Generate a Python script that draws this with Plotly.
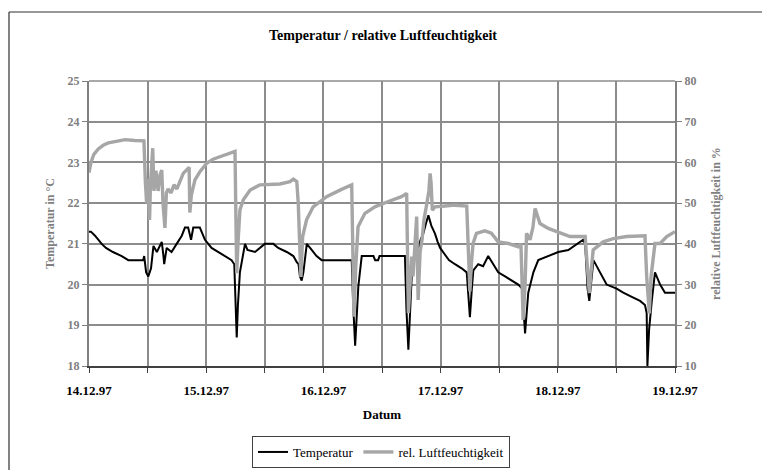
import plotly.graph_objects as go

# Measurement series: hours after 14.12.97 00:00
temp_hours = [0, 0.4, 1.23, 1.84, 2.6, 3.48, 4.9, 6.7, 8.05, 11.1, 11.3, 11.7, 12.15, 12.7,
              13.2, 13.9, 14.3, 14.9, 15.25, 15.4, 15.9, 16.9, 17.95, 19.0, 19.65, 20.3,
              20.9, 21.35, 22.7, 23.75, 25.1, 26.5, 27.85, 29.2, 29.75, 30.25, 30.5, 30.9,
              31.95, 32.45, 34.0, 35.0, 36.0, 37.75, 38.75, 40.5, 41.85, 42.55, 42.9, 43.2,
              43.55, 43.9, 44.6, 45.6, 46.6, 47.65, 53.8, 54.1, 54.5, 55.15, 55.85, 58.25,
              58.6, 59.2, 59.5, 64.7, 65.0, 65.4, 65.75, 66.2, 66.8, 67.45, 67.9, 68.45,
              69.0, 69.5, 70.1, 70.85, 71.4, 71.9, 72.8, 73.7, 74.95, 76.3, 77.35, 77.7,
              78.0, 78.4, 78.7, 79.7, 80.7, 81.75,
              82.8, 83.8, 85.2, 86.55, 87.9, 88.7, 89.05, 89.3, 89.95, 91.0, 92.0, 94.05,
              96.1, 98.15, 100.55, 101.2, 101.6, 102.1, 102.45, 102.8, 103.3, 104.65,
              106.0, 108.05, 109.4, 111.15, 112.85, 113.85, 114.2, 114.35, 114.7, 115.25,
              115.9, 116.95, 117.95, 120]
temp_values = [21.3, 21.3, 21.2, 21.1, 21.0, 20.9, 20.8, 20.7, 20.6, 20.6, 20.7, 20.3, 20.2, 20.4,
               20.95, 20.8, 20.9, 21.05, 20.7, 20.5, 20.9, 20.8, 21.0, 21.2, 21.4, 21.4,
               21.1, 21.4, 21.4, 21.1, 20.9, 20.8, 20.7, 20.6, 20.5, 18.7, 19.5, 20.3,
               21.0, 20.85, 20.8, 20.9, 21.0, 21.0, 20.9, 20.8, 20.7, 20.55, 20.5, 20.2,
               20.1, 20.3, 21.0, 20.85, 20.7, 20.6, 20.6, 19.5, 18.5, 19.95, 20.7, 20.7,
               20.6, 20.6, 20.7, 20.7, 19.4, 18.4, 19.3, 20.5, 20.7, 20.9, 21.1, 21.25,
               21.5, 21.7, 21.45, 21.25, 21.05, 20.9, 20.75, 20.6, 20.5, 20.4, 20.3, 19.8,
               19.2, 19.9, 20.35, 20.5, 20.45, 20.7,
               20.5, 20.3, 20.2, 20.1, 20.0, 19.9, 19.3, 18.8, 19.8, 20.3, 20.6, 20.7,
               20.8, 20.85, 21.05, 21.1, 21.0, 19.9, 19.6, 20.0, 20.6, 20.3,
               20.0, 19.9, 19.8, 19.7, 19.6, 19.5, 19.3, 18.0, 18.9, 19.6,
               20.3, 20.0, 19.8, 19.8]

rh_hours = [0, 0.4, 1.0, 1.9, 2.9, 3.95, 5.3, 7.4, 9.4, 11.25, 11.55, 11.8, 12.0, 12.4, 12.6,
            13.05, 13.3, 13.7, 14.15, 14.55, 14.9, 15.15, 15.55, 15.85, 16.2, 16.8, 17.4,
            18.0, 19.3, 20.5, 20.65, 20.95, 21.7, 22.75, 24.1, 25.4, 26.8, 28.25, 29.55,
            29.9, 30.1, 30.25, 30.5, 30.9, 31.6, 33.0, 35.0, 37.05, 39.1, 41.15, 41.85,
            42.55, 42.85, 43.2, 43.4, 43.75, 44.55, 45.9, 48.65, 51.4, 53.45, 53.8, 54.0,
            54.25, 54.65, 55.1, 56.5, 58.55, 61.3, 64.0, 65.05, 65.25, 65.4, 65.75, 66.1,
            66.35, 66.8, 67.1, 67.4, 67.8, 68.2, 68.6, 69.2, 69.6, 69.85, 70.05, 70.3,
            70.85, 72.9, 74.95, 77.35, 77.6, 78.0, 78.3, 78.65, 79.35, 81.05, 82.4, 83.8,
            85.85, 87.9, 88.45, 88.9, 89.3, 89.6, 90.3, 90.9, 91.35, 92.35, 94.05, 95.4,
            97.15, 98.5, 101.6, 101.95, 102.45, 102.8, 103.25, 105.3, 107.35, 110.1,
            113.85, 114.2, 114.75, 115.1, 115.9, 116.95, 118.3, 120]
rh_values = [57.5, 60, 62, 63.3, 64.2, 64.8, 65.1, 65.6, 65.4, 65.3, 55, 50, 56, 45.9, 55,
             63.5, 53, 58, 53, 57, 58.1, 50, 43.9, 52.5, 53.5, 52.5, 54.5,
             53.5, 57.3, 58.8, 47.7, 52, 55.7, 57.8, 59.8, 60.8, 61.4, 62.0, 62.5,
             62.7, 45, 32.8, 40, 48.3, 50.8, 53.2, 54.5, 54.6, 54.7, 55.3, 55.9,
             55.3, 50, 38, 31.9, 41.8, 45.9, 49.1, 51.6, 53.2, 54.5, 54.5, 40,
             22.1, 35, 44.2, 47.5, 49.1, 50.4, 51.6, 52.4, 40, 23, 30, 36.9,
             32, 40, 46.7, 26.2, 38, 41, 46, 50, 53, 57.3, 55, 48.3,
             49.1, 49.3, 49.5, 49.3, 40, 28.3, 35, 40.1, 42.6, 43.2, 42.6, 40.5,
             40.1, 39.3, 40, 21.3, 30, 42.6, 41, 44, 48.7, 45, 43.8, 43.2,
             42.6, 41.8, 41.8, 35, 27.9, 33, 38.5, 40.5, 41.3, 41.8,
             42, 32, 22.9, 32, 40.1, 40.1, 41.8, 43]

day_labels = ["14.12.97", "15.12.97", "16.12.97", "17.12.97", "18.12.97", "19.12.97"]
temp_ticks = [18, 19, 20, 21, 22, 23, 24, 25]
rh_ticks = [10, 20, 30, 40, 50, 60, 70, 80]

FONT = "Liberation Serif"
GRID = "#8c8c8c"
GREY_TEXT = "#7f7f7f"

tick_hours = [i * 12 for i in range(11)]
tick_text = []
for i in range(11):
    tick_text.append(day_labels[i // 2] if i % 2 == 0 else "")

fig = go.Figure()
fig.add_trace(go.Scatter(
    x=temp_hours, y=temp_values, name="Temperatur", mode="lines",
    line=dict(color="#000000", width=2), yaxis="y"))
fig.add_trace(go.Scatter(
    x=rh_hours, y=rh_values, name="rel. Luftfeuchtigkeit", mode="lines",
    line=dict(color="#a6a6a6", width=3.4), yaxis="y2"))

L, R, T, B = 89, 675, 81, 366
W, H = 762, 470


def px_x(p):
    return (p - L) / (R - L)


def px_y(p):
    return (B - p) / (B - T)


fig.update_layout(
    width=W, height=H,
    margin=dict(l=L, r=W - R, t=T, b=H - B, autoexpand=False),
    paper_bgcolor="white", plot_bgcolor="white",
    font=dict(family=FONT, size=12, color="#000000"),
    title=dict(text="Temperatur / relative Luftfeuchtigkeit", x=px_x(383), xref="paper",
               xanchor="center", y=1 - 35 / H, yanchor="middle",
               font=dict(family=FONT, size=14, weight="bold", color="#000000")),
    xaxis=dict(range=[0, 120], tickvals=tick_hours, ticktext=tick_text,
               showgrid=True, gridcolor=GRID, gridwidth=1.5,
               showline=True, linecolor="#404040", linewidth=2,
               ticks="outside", ticklen=5, tickcolor="#404040",
               ticklabelstandoff=6, automargin=False,
               tickfont=dict(family=FONT, size=13, weight="bold", color="#000000"),
               title=dict(text="Datum", standoff=13,
                          font=dict(family=FONT, size=13, weight="bold", color="#000000")),
               zeroline=False),
    yaxis=dict(range=[18, 25], tickvals=temp_ticks, automargin=False,
               showgrid=True, gridcolor=GRID, gridwidth=1.5,
               showline=True, linecolor="#808080", linewidth=2,
               ticks="outside", ticklen=5, tickcolor="#808080",
               tickfont=dict(family=FONT, size=12, weight="bold", color=GREY_TEXT),
               title=dict(text="Temperatur in °C", standoff=10,
                          font=dict(family=FONT, size=12, weight="bold", color=GREY_TEXT)),
               zeroline=False),
    yaxis2=dict(range=[10, 80], tickvals=rh_ticks, overlaying="y", side="right",
                automargin=False,
                showgrid=False, showline=True, linecolor="#808080", linewidth=2,
                ticks="outside", ticklen=5, tickcolor="#808080",
                tickfont=dict(family=FONT, size=12, weight="bold", color=GREY_TEXT),
                title=dict(text="relative Luftfeuchtigkeit in %", standoff=16,
                           font=dict(family=FONT, size=12, weight="bold", color=GREY_TEXT)),
                zeroline=False),
    legend=dict(orientation="h", x=px_x(381), xanchor="center", y=px_y(436), yanchor="top",
                bordercolor="#404040", borderwidth=1, bgcolor="white",
                font=dict(family=FONT, size=13, color="#000000"),
                itemwidth=30, tracegroupgap=0),
    showlegend=True,
)

# top border line of the plot area and the outer frame of the chart
fig.add_shape(type="line", xref="paper", yref="paper", x0=0, x1=1, y0=1, y1=1,
              line=dict(color=GRID, width=1.5))
fig.add_shape(type="line", xref="paper", yref="paper", x0=px_x(9), x1=px_x(W + 5),
              y0=px_y(12), y1=px_y(12), line=dict(color="#303030", width=1.2))
fig.add_shape(type="line", xref="paper", yref="paper", x0=px_x(9), x1=px_x(9),
              y0=px_y(12), y1=px_y(H + 5), line=dict(color="#303030", width=1.2))

fig.write_html("out.html")
